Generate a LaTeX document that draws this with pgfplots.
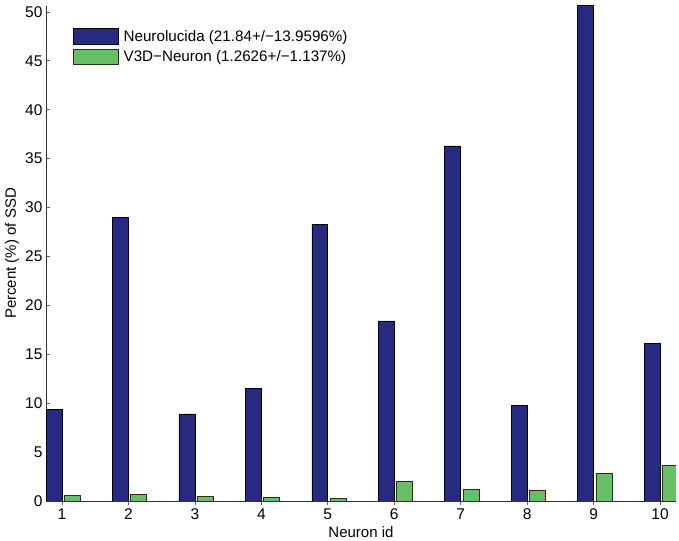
\documentclass[border=0pt]{standalone}
\usepackage{pgfplots}
\pgfplotsset{compat=1.18}
\usepackage{fontspec}
\setmainfont{Liberation Sans}
\definecolor{nblue}{RGB}{38,42,128}
\definecolor{ngreen}{RGB}{102,190,102}
\begin{document}
\begin{tikzpicture}
\path[use as bounding box] (-46pt,-39pt) rectangle (633pt,501pt);
\begin{axis}[
  at={(0pt,0pt)}, anchor=south west,
  scale only axis, width=630pt, height=495pt,
  xmin=0.76, xmax=10.24, ymin=0, ymax=50.6,
  axis x line*=bottom, axis y line*=left,
  xtick={1,...,10}, ytick={0,5,...,50},
  tick align=inside, major tick length=4pt,
  tick style={black!60, line width=0.6pt},
  axis line style={black!80, line width=0.6pt},
  /pgf/number format/assume math mode=true,
  tick label style={font=\fontsize{15.5}{17}\selectfont},
  label style={font=\fontsize{15}{17}\selectfont},
  xlabel={Neuron id}, ylabel={Percent (\%) of SSD},
  xlabel style={at={(axis description cs:0.5,0)}, anchor=center, yshift=-31pt},
  ylabel style={at={(axis description cs:0,0.5)}, anchor=center, xshift=0pt, yshift=34pt},
  ybar, bar width=0.24,
  clip=true,
  legend style={at={(0.037,0.96)}, anchor=north west, draw=none, fill=none,
    font=\fontsize{15.2}{16}\selectfont, row sep=4pt},
  legend cell align=left,
  legend image code/.code={\draw[#1] (0pt,-7.8pt) rectangle (45pt,7.8pt); \path (48.5pt,0pt);},
]
\addplot[fill=nblue, draw=black, line width=0.6pt, bar shift=-0.12] coordinates {
(1,9.4) (2,29.0) (3,8.9) (4,11.5) (5,28.3) (6,18.4) (7,36.3) (8,9.8) (9,50.7) (10,16.1)};
\addlegendentry{Neurolucida (21.84+/−13.9596\%)}
\addplot[fill=ngreen, draw=black!70!brown, line width=0.6pt, bar shift=0.155] coordinates {
(1,0.6) (2,0.64) (3,0.5) (4,0.37) (5,0.27) (6,1.97) (7,1.16) (8,1.09) (9,2.8) (10,3.6)};
\addlegendentry{V3D−Neuron (1.2626+/−1.137\%)}
\end{axis}
\end{tikzpicture}
\end{document}
